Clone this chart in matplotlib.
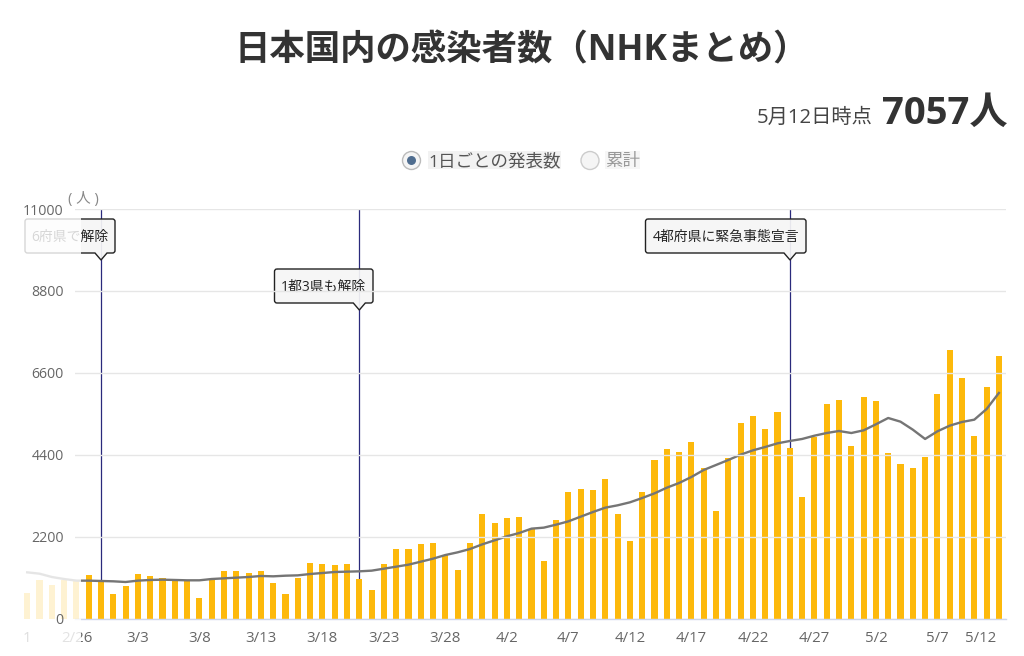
import numpy as np
import pandas as pd
import matplotlib
matplotlib.use("Agg")
import matplotlib.pyplot as plt
from matplotlib.patches import PathPatch, Rectangle, Circle
from matplotlib.path import Path
from matplotlib.transforms import Affine2D, ScaledTranslation

LATIN = ['Open Sans', 'Noto Sans CJK JP', 'DejaVu Sans']
plt.rcParams['font.family'] = LATIN

dates = pd.date_range('2020-02-23', '2020-05-12')
date_labels = [f"{d.month}/{d.day}" for d in dates]

daily = [698, 1038, 912, 1038, 1011,
         1180, 1011, 680, 877, 1216, 1145, 1109, 1038, 1038, 572, 1082, 1279, 1279, 1243, 1279, 975, 680, 1109, 1511, 1476, 1449,
         1476, 1073, 778, 1476, 1878, 1878, 2012, 2048, 1717, 1315, 2048, 2817, 2585, 2719, 2746, 2415, 1547, 2647, 3416, 3478,
         3452, 3756, 2817, 2084, 3416, 4266, 4561, 4480,
         4757, 4051, 2889, 4320, 5259, 5455, 5089, 5554, 4588, 3282, 4892, 5760, 5885, 4650, 5957, 5858, 4446, 4150, 4051, 4355,
         6029, 7226, 6458, 4918, 6225, 7057]
average = [1252, 1216, 1127, 1073, 1029,
           1029, 1020, 1011, 993, 1029, 1047, 1055, 1047, 1038, 1038, 1073, 1091, 1109, 1127, 1154, 1145, 1162, 1171, 1207, 1234, 1261,
           1270, 1279, 1297, 1350, 1404, 1458, 1538, 1619, 1717, 1789, 1878, 2003, 2111, 2218, 2307, 2424, 2451, 2531, 2620, 2746,
           2871, 2987, 3050, 3130, 3246, 3371, 3523, 3649,
           3810, 3998, 4132, 4266, 4409, 4525, 4615, 4713, 4776, 4830, 4918, 4990, 5044, 4990, 5062, 5223, 5393, 5294, 5080, 4830,
           5035, 5187, 5286, 5348, 5634, 6064]

y_ticks = [0, 2200, 4400, 6600, 8800, 11000]
x_tick_labels = ['3/3', '3/8', '3/13', '3/18', '3/23', '3/28', '4/2', '4/7', '4/12', '4/17', '4/22', '4/27', '5/2', '5/7', '5/12']
first_tick_label = '2/26'
event_dates = ['2/29', '3/21', '4/25']
event_labels = ['6府県で解除', '1都3県も解除', '4都府県に緊急事態宣言']

W, H = 1024, 656
fig = plt.figure(figsize=(W / 100, H / 100), dpi=100, facecolor='white')
px = Affine2D().scale(1, -1).translate(0, H)  # pixel coordinates, origin top-left

ax = fig.add_axes([75 / W, 1 - 619 / H, (1006 - 75) / W, (619 - 209) / H])
x0_px, step_px = 88.7, 12.3
x = np.arange(len(dates)) - 5

for s in ['top', 'left', 'right']:
    ax.spines[s].set_visible(False)
ax.spines['bottom'].set_color('#ccd6eb')
ax.spines['bottom'].set_linewidth(1.0)
ax.spines['bottom'].set_zorder(1)

ax.set_yticks(y_ticks)
ax.set_yticklabels([str(v) for v in y_ticks])
ax.tick_params(axis='y', length=0, pad=8.2, labelsize=10.2, labelcolor='#666666')
tick_pos = [date_labels.index(t) - 5 for t in x_tick_labels]
ax.set_xticks(tick_pos)
ax.set_xticklabels(x_tick_labels)
ax.tick_params(axis='x', length=0, pad=9, labelsize=10.8, labelcolor='#666666')
ax.yaxis.grid(True, color='#e6e6e6', lw=1.0)
ax.xaxis.grid(False)
ax.xaxis.set_zorder(1.5)
ax.yaxis.set_zorder(20)
for line in ax.yaxis.get_gridlines():
    line.set_zorder(1)

labels = ax.get_xticklabels()
labels[-1].set_transform(labels[-1].get_transform() + ScaledTranslation(-18 / 100, 0, fig.dpi_scale_trans))

ax.bar(x, daily, width=0.5, color='#FDB90B', zorder=3, clip_on=False)
ax.plot(x, average, color='#757575', lw=1.7, zorder=4, clip_on=False)

for d in event_dates:
    ax.plot([date_labels.index(d) - 5] * 2, [0, 11000], color='#2a2a7c', lw=0.9, zorder=2.5)

ax.set_xlim((75 - x0_px) / step_px, (1006 - x0_px) / step_px)
ax.set_ylim(0, 11000)


def callout(x1, x2, y1, y2, tip_x, tip_y, text):
    r = 2.5
    w = 6
    v = [(x1 + r, y1), (x2 - r, y1), (x2, y1), (x2, y1 + r), (x2, y2 - r), (x2, y2), (x2 - r, y2),
         (tip_x + w, y2), (tip_x, tip_y), (tip_x - w, y2),
         (x1 + r, y2), (x1, y2), (x1, y2 - r), (x1, y1 + r), (x1, y1), (x1 + r, y1)]
    c = [Path.MOVETO, Path.LINETO, Path.CURVE3, Path.CURVE3, Path.LINETO, Path.CURVE3, Path.CURVE3,
         Path.LINETO, Path.LINETO, Path.LINETO,
         Path.LINETO, Path.CURVE3, Path.CURVE3, Path.LINETO, Path.CURVE3, Path.CURVE3]
    ax.add_patch(PathPatch(Path(v, c), transform=px, clip_on=False, facecolor=(0.965, 0.965, 0.965, 0.93),
                           edgecolor='#222222', lw=1.0, zorder=5))
    ax.text((x1 + x2) / 2, (y1 + y2) / 2 + 1, text, transform=px, ha='center', va='center', fontsize=10,
            color='#222222', zorder=6, clip_on=False)


callout(25, 115, 219, 253, 101, 260, event_labels[0])
callout(274.5, 373, 269, 303, 359.3, 310, event_labels[1])
callout(645.5, 806, 219, 253, 790, 260, event_labels[2])

ax.text(77, 638, first_tick_label, transform=px, ha='center', va='center', fontsize=10.8, color='#666666',
        zorder=2, clip_on=False)

# white fade over the left edge of the plot
ax.add_patch(Rectangle((0, 205), 80.5, 445, transform=px, facecolor='white', alpha=0.82, edgecolor='none',
                       zorder=10, clip_on=False))
ax.text(27, 638, '1', transform=px, ha='center', va='center', fontsize=10.8, color='#dddddd', zorder=11, clip_on=False)

ax.text(83, 199, '( 人 )', transform=px, ha='center', va='center', fontsize=10.5, color='#888888', zorder=21, clip_on=False)

fig.text(522 / W, 1 - 51 / H, '日本国内の感染者数（NHKまとめ）', ha='center', va='center', fontsize=25.5,
         fontweight='bold', color='#333333')
fig.text(873 / W, 1 - 118 / H, '5月12日時点', ha='right', va='center', fontsize=14.6, color='#444444')
fig.text(1008 / W, 1 - 114 / H, '7057人', ha='right', va='center', fontsize=27.5, fontweight='bold', color='#333333')

# radio-button toggle above the plot
ax.add_patch(Rectangle((428, 151), 133, 18, transform=px, facecolor='#f2f2f2', edgecolor='none', clip_on=False))
ax.add_patch(Rectangle((605, 151), 35, 18, transform=px, facecolor='#f6f6f6', edgecolor='none', clip_on=False))
ax.add_patch(Circle((411.5, 160.5), 9, transform=px, facecolor='#f5f5f5', edgecolor='#bbbbbb', lw=1.0, clip_on=False))
ax.add_patch(Circle((411.5, 160.5), 4.5, transform=px, facecolor='#4f6d8f', edgecolor='none', clip_on=False))
ax.add_patch(Circle((590, 160.5), 9, transform=px, facecolor='#f5f5f5', edgecolor='#cccccc', lw=1.0, clip_on=False))
fig.text(428 / W, 1 - 162 / H, '1日ごとの発表数', ha='left', va='center', fontsize=12.6, color='#555555')
fig.text(605 / W, 1 - 162 / H, '累計', ha='left', va='center', fontsize=12.6, color='#999999')

fig.savefig('out.png', dpi=100, facecolor='white')
